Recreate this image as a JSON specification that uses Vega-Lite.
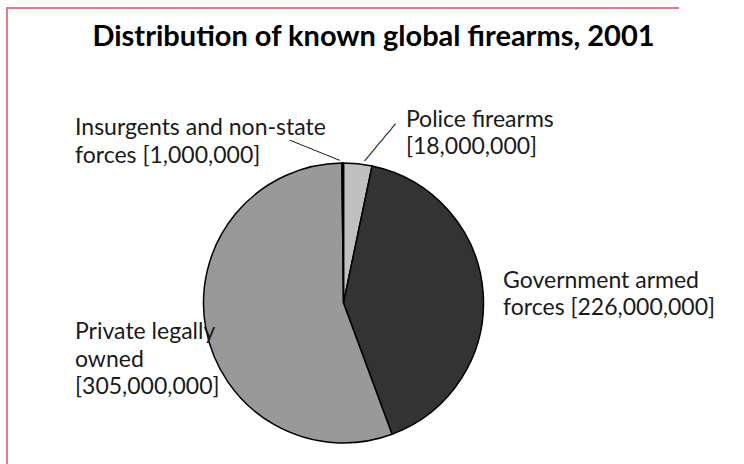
{
  "$schema": "https://vega.github.io/schema/vega-lite/v6.json",
  "autosize": "none",
  "width": 673,
  "height": 590,
  "padding": {"left": 7, "top": 8, "right": 64, "bottom": 0},
  "background": "white",
  "view": {"stroke": "#e8768f", "strokeWidth": 2, "strokeDash": [1262, 1264], "strokeDashOffset": 590},
  "title": {
    "text": "Distribution of known global firearms, 2001",
    "font": "Lato",
    "fontSize": 29,
    "fontWeight": "bold",
    "color": "#000000",
    "anchor": "middle",
    "frame": "group",
    "baseline": "alphabetic",
    "offset": -67,
    "dx": 30
  },
  "data": {
    "values": [
      {"category": "Police firearms", "firearms": 18000000, "idx": 1, "label": "Police firearms\n[18,000,000]"},
      {"category": "Government armed forces", "firearms": 226000000, "idx": 2, "label": "Government armed\nforces [226,000,000]"},
      {"category": "Private legally owned", "firearms": 305000000, "idx": 3, "label": "Private legally\nowned\n[305,000,000]"},
      {"category": "Insurgents and non-state forces", "firearms": 1000000, "idx": 4, "label": "Insurgents and non-state\nforces [1,000,000]"}
    ]
  },
  "encoding": {
    "theta": {"field": "firearms", "type": "quantitative", "stack": true},
    "order": {"field": "idx", "type": "quantitative"}
  },
  "layer": [
    {
      "mark": {"type": "arc", "outerRadius": 140, "stroke": "#000000", "strokeWidth": 1.5},
      "encoding": {
        "color": {
          "field": "category",
          "type": "nominal",
          "scale": {
            "domain": ["Police firearms", "Government armed forces", "Private legally owned", "Insurgents and non-state forces"],
            "range": ["#c0c0c0", "#333333", "#999999", "#000000"]
          },
          "legend": null
        }
      }
    },
    {
      "mark": {"type": "text", "radius": 150, "align": "left", "baseline": "alphabetic", "font": "Lato", "fontSize": 23, "lineHeight": 27.5, "lineBreak": "\n", "color": "#1a1a1a", "dx": 47, "dy": -27},
      "encoding": {
        "text": {"condition": {"test": "datum.category === 'Police firearms'", "field": "label"}, "value": ""}
      }
    },
    {
      "mark": {"type": "text", "radius": 150, "align": "left", "baseline": "alphabetic", "font": "Lato", "fontSize": 23, "lineHeight": 27.5, "lineBreak": "\n", "color": "#1a1a1a", "dx": 10, "dy": -4},
      "encoding": {
        "text": {"condition": {"test": "datum.category === 'Government armed forces'", "field": "label"}, "value": ""}
      }
    },
    {
      "mark": {"type": "text", "radius": 150, "align": "left", "baseline": "alphabetic", "font": "Lato", "fontSize": 23, "lineHeight": 27.5, "lineBreak": "\n", "color": "#1a1a1a", "dx": -121, "dy": 9},
      "encoding": {
        "text": {"condition": {"test": "datum.category === 'Private legally owned'", "field": "label"}, "value": ""}
      }
    },
    {
      "mark": {"type": "text", "radius": 150, "align": "left", "baseline": "alphabetic", "font": "Lato", "fontSize": 23, "lineHeight": 27.5, "lineBreak": "\n", "color": "#1a1a1a", "dx": -267.6, "dy": -18},
      "encoding": {
        "text": {"condition": {"test": "datum.category === 'Insurgents and non-state forces'", "field": "label"}, "value": ""}
      }
    },
    {
      "mark": {"type": "text", "radius": 143, "align": "left", "baseline": "middle", "font": "DejaVu Sans Mono", "fontSize": 10, "color": "#000000", "angle": 201.8, "dx": 2.5, "dy": -1},
      "encoding": {
        "text": {"condition": {"test": "datum.category === 'Insurgents and non-state forces'", "value": "─────────"}, "value": ""}
      }
    },
    {
      "mark": {"type": "text", "radius": 141, "align": "left", "baseline": "middle", "font": "DejaVu Sans Mono", "fontSize": 10, "color": "#000000", "angle": 309.8, "dx": 5.8, "dy": 4.3},
      "encoding": {
        "text": {"condition": {"test": "datum.category === 'Police firearms'", "value": "────────"}, "value": ""}
      }
    }
  ]
}
